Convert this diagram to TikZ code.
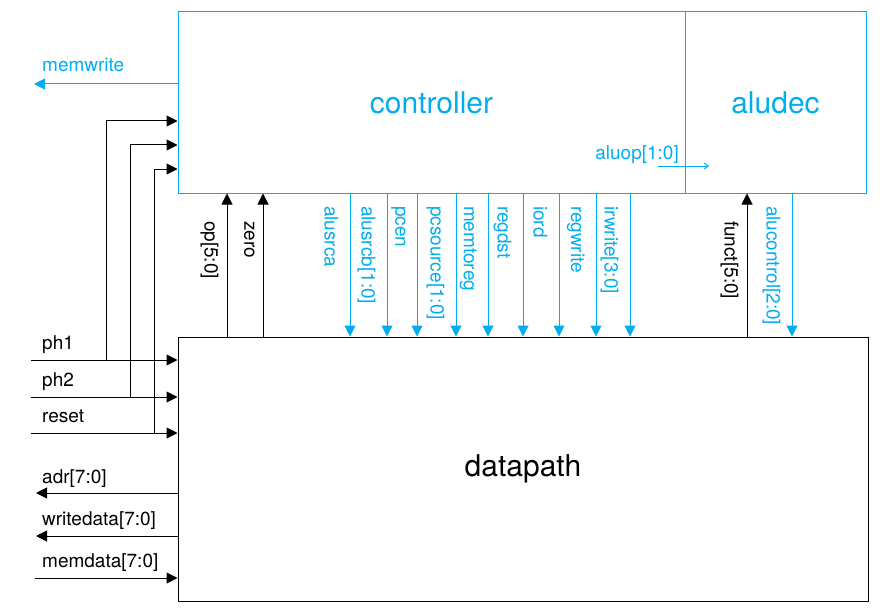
\documentclass[tikz,border=0pt]{standalone}
\usepackage{fontspec}
\setmainfont{TeX Gyre Heros}
\usepackage{xcolor}
\usetikzlibrary{positioning,arrows.meta}
\definecolor{sigblue}{RGB}{0,174,239}

\begin{document}
\begin{tikzpicture}[x=1pt,y=-1pt,
  every node/.style={font=\fontsize{19}{21}\selectfont},
  box/.style={draw, line width=1pt, inner sep=0pt, font=\fontsize{30}{33}\selectfont},
  wire/.style={line width=1pt},
  sig/.style={wire, -{Triangle[length=11pt,width=11pt]}},
  ctlsig/.style={sig, sigblue},
  vlab/.style={anchor=north west, rotate=-90, inner sep=0pt},
  hlab/.style={anchor=base west, inner sep=0pt}]
\useasboundingbox (0,0) rectangle (894,615);

% Blocks
\node[box, sigblue, minimum width=507, minimum height=181] (ctrl) at (431.5,102.5) {controller};
\node[box, sigblue, minimum width=181, minimum height=181] (alu) at (775.5,102.5) {aludec};
\node[box, minimum width=690, minimum height=264] (dp) at (523,469) {datapath};

% Clock and reset inputs
\coordinate (in-ph1) at (31,360);
\coordinate (in-ph2) at (31,397);
\coordinate (in-reset) at (31,433);
\draw[sig] (in-ph1) -- (dp.west |- in-ph1);
\draw[sig] (in-ph2) -- (dp.west |- in-ph2);
\draw[sig] (in-reset) -- (dp.west |- in-reset);
\node[hlab] (lab-ph1) at (42,349) {ph1};
\node[hlab] (lab-ph2) at (42,386) {ph2};
\node[hlab] (lab-reset) at (42,422) {reset};

% Branches up to the controller
\coordinate (br-ph1) at (106,360);
\coordinate (br-ph2) at (130,397);
\coordinate (br-reset) at (154,433);
\draw[sig] (br-ph1) |- (ctrl.west |- 0,121);
\draw[sig] (br-ph2) |- (ctrl.west |- 0,145);
\draw[sig] (br-reset) |- (ctrl.west |- 0,169);

% Memory interface
\coordinate (out-memwrite) at (34,84);
\draw[ctlsig] (ctrl.west |- out-memwrite) -- (out-memwrite);
\node[hlab, sigblue] (lab-memwrite) at (42,72) {memwrite};

\coordinate (out-adr) at (36,493);
\coordinate (out-writedata) at (36,536);
\coordinate (in-memdata) at (35,578);
\draw[sig] (dp.west |- out-adr) -- (out-adr);
\draw[sig] (dp.west |- out-writedata) -- (out-writedata);
\draw[sig] (in-memdata) -- (dp.west |- in-memdata);
\node[hlab] (lab-adr) at (42,483) {adr[7:0]};
\node[hlab] (lab-writedata) at (42,525) {writedata[7:0]};
\node[hlab] (lab-memdata) at (42,567) {memdata[7:0]};

% Status back to the controller
\foreach \x/\lab in {227/{op[5:0]}, 263/zero}
  \draw[sig] (dp.north -| \x,0) -- (ctrl.south -| \x,0)
    node[pos=1, xshift=-8, yshift=-27, vlab] (lab-\x) {\lab};
\draw[sig] (dp.north -| 747,0) -- (alu.south -| 747,0)
  node[pos=1, xshift=-8, yshift=-27, vlab] (lab-funct) {funct[5:0]};

% Control signals
\foreach \x/\lab in {350/alusrca, 387/{alusrcb[1:0]}, 417/pcen, 456/{pcsource[1:0]},
    488/memtoreg, 523/regdst, 559/iord, 596/regwrite, 630/{irwrite[3:0]}}
  \draw[ctlsig] (ctrl.south -| \x,0) -- (dp.north -| \x,0)
    node[pos=0, xshift=-11, yshift=-12, vlab, sigblue] (lab-\x) {\lab};
\draw[ctlsig] (alu.south -| 792,0) -- (dp.north -| 792,0)
  node[pos=0, xshift=-11, yshift=-12, vlab, sigblue] (lab-alucontrol) {alucontrol[2:0]};

% aluop into aludec
\coordinate (aluop-a) at (658,166);
\coordinate (aluop-b) at (709,166);
\draw[wire, sigblue, -{Straight Barb[length=4pt,width=6pt]}] (aluop-a) -- (aluop-b);
\node[anchor=base east, inner sep=0pt, sigblue] (lab-aluop) at (679,159) {aluop[1:0]};
\end{tikzpicture}
\end{document}
